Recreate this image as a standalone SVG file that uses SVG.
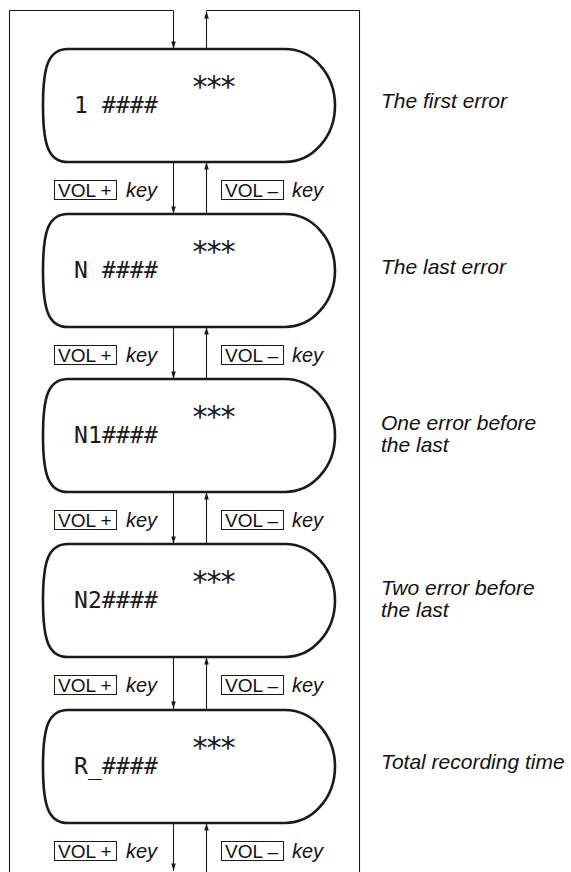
<svg xmlns="http://www.w3.org/2000/svg" width="571" height="872" viewBox="0 0 571 872">
<defs>
<style>
.node{fill:#fff;stroke:#1a1a1a;stroke-width:2.6}
.ln{fill:none;stroke:#1a1a1a;stroke-width:1.1}
.arr{fill:none;stroke:#1a1a1a;stroke-width:1.1;marker-end:url(#ah)}
.lcd{font-family:"DejaVu Sans Mono",monospace;font-size:23px;fill:#1a1a1a;letter-spacing:0.15px}
.ast{font-family:"DejaVu Sans Mono",monospace;font-size:30px;fill:#1a1a1a;letter-spacing:-4px}
.lbl{font-family:"Liberation Sans",Arial,sans-serif;font-style:italic;font-size:21px;fill:#111}
.key{font-family:"Liberation Sans",Arial,sans-serif;font-style:italic;font-size:20px;fill:#111}
.vol{font-family:"Liberation Sans",Arial,sans-serif;font-size:19px;fill:#111}
.box{fill:none;stroke:#1a1a1a;stroke-width:1}
</style>
<marker id="ah" markerUnits="userSpaceOnUse" viewBox="0 0 10 6" refX="10" refY="3" markerWidth="9" markerHeight="4.5" orient="auto">
<path d="M0,0 L10,3 L0,6 z" fill="#1a1a1a"/>
</marker>
<path id="shape" d="M68,0 H285 A50,56.5 0 0 1 285,113 H68 C48,113 43,95 43,56.5 C43,18 48,0 68,0 Z"/>
<g id="keys">
<rect class="box" x="54.5" y="18.5" width="62" height="19"/>
<text class="vol" x="58" y="34.5" xml:space="preserve">VOL +</text>
<text class="key" x="126" y="34.5">key</text>
<rect class="box" x="221.5" y="18.5" width="62" height="19"/>
<text class="vol" x="225" y="34.5" xml:space="preserve">VOL –</text>
<text class="key" x="292" y="34.5">key</text>
</g>
</defs>

<g id="connectors">
<path class="ln" d="M9.5,872 V10.5 H173.5"/>
<line class="arr" x1="173.5" y1="10.5" x2="173.5" y2="49"/>
<line class="arr" x1="206.5" y1="49" x2="206.5" y2="11"/>
<path class="ln" d="M206.5,10.5 H359.5 V872"/>
<line class="arr" x1="173.5" y1="162" x2="173.5" y2="214"/>
<line class="arr" x1="206.5" y1="214" x2="206.5" y2="162"/>
<line class="arr" x1="173.5" y1="327" x2="173.5" y2="379"/>
<line class="arr" x1="206.5" y1="379" x2="206.5" y2="327"/>
<line class="arr" x1="173.5" y1="492" x2="173.5" y2="544"/>
<line class="arr" x1="206.5" y1="544" x2="206.5" y2="492"/>
<line class="arr" x1="173.5" y1="657" x2="173.5" y2="709"/>
<line class="arr" x1="206.5" y1="709" x2="206.5" y2="657"/>
<line class="arr" x1="173.5" y1="823" x2="173.5" y2="871"/>
<line class="arr" x1="206.5" y1="872" x2="206.5" y2="823"/>
</g>

<g id="key-labels">
<use href="#keys" transform="translate(0,162)"/>
<use href="#keys" transform="translate(0,327)"/>
<use href="#keys" transform="translate(0,492)"/>
<use href="#keys" transform="translate(0,657)"/>
<use href="#keys" transform="translate(0,823)"/>
</g>

<g id="node1" transform="translate(0,49)">
<use href="#shape" class="node"/>
<text class="ast" x="191" y="47.5">***</text>
<text class="lcd" x="74" y="64" xml:space="preserve">1 ####</text>
</g>
<g id="node2" transform="translate(0,214)">
<use href="#shape" class="node"/>
<text class="ast" x="191" y="47.5">***</text>
<text class="lcd" x="74" y="64" xml:space="preserve">N ####</text>
</g>
<g id="node3" transform="translate(0,379)">
<use href="#shape" class="node"/>
<text class="ast" x="191" y="47.5">***</text>
<text class="lcd" x="74" y="64">N1####</text>
</g>
<g id="node4" transform="translate(0,544)">
<use href="#shape" class="node"/>
<text class="ast" x="191" y="47.5">***</text>
<text class="lcd" x="74" y="64">N2####</text>
</g>
<g id="node5" transform="translate(0,710)">
<use href="#shape" class="node"/>
<text class="ast" x="191" y="47.5">***</text>
<text class="lcd" x="74" y="64">R_####</text>
</g>

<g id="descriptions">
<text class="lbl" x="381" y="108">The first error</text>
<text class="lbl" x="381" y="274">The last error</text>
<text class="lbl" x="381" y="430">One error before</text>
<text class="lbl" x="381" y="452">the last</text>
<text class="lbl" x="381" y="595">Two error before</text>
<text class="lbl" x="381" y="617">the last</text>
<text class="lbl" x="381" y="769">Total recording time</text>
</g>
</svg>
